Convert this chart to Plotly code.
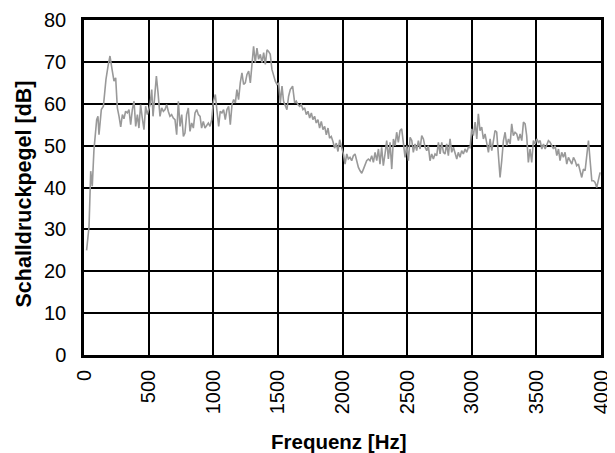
import plotly.graph_objects as go

# Frequency (Hz) and sound pressure level (dB), in four bands
freq_0_1k = [20, 39, 52, 64, 77, 98, 108, 116, 134, 150, 160, 170, 186, 201, 217, 232, 245, 258, 271, 284,
             297, 309, 322, 335, 348, 361, 374, 387, 400, 413, 425, 438, 451, 464, 477, 490, 511, 524, 534, 547,
             560, 573, 588, 601, 614, 627, 640, 652, 665, 678, 691, 704, 717, 730, 743, 756, 769, 781, 794, 807,
             820, 833, 846, 859, 872, 885, 898, 910, 923, 936, 949, 962, 975, 988]
level_0_1k = [25, 30.7, 43.9, 40.3, 49, 56.2, 57, 52.6, 58.6, 59.4, 62.6, 65.8, 69, 71.4, 68.2, 65.4, 66.2, 59, 57, 54.5,
              57.4, 56.4, 58.2, 57.8, 58.6, 55, 58.6, 60.6, 54.6, 57.4, 54.2, 59.8, 56.6, 53.8, 59.4, 57.4, 59.8, 63.4, 57, 61.4,
              66.6, 62.6, 57, 59, 58.2, 58.6, 59.8, 58.2, 57, 57.4, 56.6, 56.2, 52.6, 60.6, 54.6, 57.4, 52.2, 53, 57.4, 59,
              53.4, 55.4, 54.2, 57.8, 58.6, 57.4, 57, 54.2, 55.8, 54.2, 55, 55.4, 54.6, 56.2]

freq_1k_2k = [1001, 1016, 1029, 1042, 1054, 1067, 1080, 1093, 1106, 1119, 1132, 1145, 1158, 1171, 1183, 1196, 1209, 1222,
              1235, 1248, 1261, 1274, 1287, 1299, 1312, 1325, 1338, 1351, 1364, 1377, 1390, 1403, 1416, 1428, 1441, 1454,
              1467, 1480, 1493, 1506, 1519, 1532, 1544, 1557, 1570, 1583, 1596, 1614, 1630, 1642, 1655, 1668, 1681, 1694,
              1707, 1720, 1733, 1746, 1759, 1771, 1784, 1797, 1810, 1823, 1836, 1849, 1862, 1875, 1888, 1900, 1913, 1926,
              1939, 1952, 1965, 1978, 1991]
level_1k_2k = [60.5, 62.2, 58.2, 54.6, 58.2, 57.8, 58.6, 56.2, 58.6, 59.4, 55, 59.8, 61, 60.2, 63.4, 61, 65, 67.4,
               64.6, 65, 67, 67.8, 65, 68.6, 73.7, 69.8, 73.3, 70.6, 71.8, 69.8, 72.2, 69.4, 72.9, 72.5, 71.8, 68.2,
               66.6, 65.4, 64.6, 65, 60.2, 64.2, 60.6, 59.4, 58.6, 61.8, 63.4, 64.2, 60.2, 60.6, 59.8, 59.4, 59.8, 58.6,
               59, 57.4, 58.2, 56.6, 57.8, 56.2, 57, 55.4, 56.2, 54.2, 55.8, 53.8, 54.6, 52.6, 54.2, 51.8, 52.2, 51,
               49.4, 50.6, 48.6, 51.4, 49.8]

freq_2k_3k = [2007, 2020, 2033, 2045, 2058, 2071, 2084, 2097, 2110, 2123, 2136, 2149, 2162, 2174, 2187, 2200, 2213, 2226,
              2239, 2252, 2265, 2278, 2290, 2303, 2316, 2329, 2342, 2355, 2368, 2381, 2394, 2407, 2419, 2432, 2445, 2458,
              2471, 2484, 2497, 2510, 2523, 2536, 2548, 2561, 2574, 2587, 2600, 2613, 2626, 2639, 2652, 2664, 2677, 2690,
              2703, 2716, 2729, 2742, 2755, 2768, 2781, 2793, 2806, 2819, 2832, 2845, 2858, 2871, 2884, 2896, 2909, 2922,
              2935, 2948, 2961, 2974, 2987]
level_2k_3k = [48, 45.6, 48, 46.8, 47.2, 46.4, 47.6, 48, 46, 44.8, 44, 43.4, 44.4, 45.6, 46.4, 46.8, 46.4, 47.6,
               46, 48.4, 46.4, 49.2, 45.6, 49.6, 45.2, 48, 51.2, 46.8, 50.8, 44.4, 51.6, 50, 53.2, 50.8, 53.6, 54,
               50.8, 47.2, 50, 46.4, 52, 51.2, 48.4, 50.4, 48.8, 51.2, 49.2, 52.4, 51.6, 49.6, 48.8, 50, 46.4, 48,
               46.8, 48, 47.6, 50.8, 48, 50.8, 48.4, 48, 50.4, 47.6, 51.6, 48.4, 49.6, 48, 46.8, 48.4, 47.2, 48.8,
               48, 49.2, 48.4, 49.6, 49.5]

freq_3k_4k = [3000, 3013, 3026, 3039, 3051, 3064, 3077, 3090, 3103, 3116, 3129, 3142, 3155, 3168, 3180, 3193, 3206, 3219,
              3232, 3245, 3258, 3271, 3284, 3297, 3309, 3322, 3335, 3348, 3361, 3374, 3387, 3400, 3413, 3425, 3438, 3451,
              3464, 3477, 3490, 3503, 3516, 3529, 3542, 3555, 3568, 3580, 3593, 3606, 3619, 3632, 3645, 3658, 3671, 3683,
              3696, 3709, 3722, 3735, 3748, 3761, 3774, 3787, 3800, 3812, 3825, 3838, 3851, 3864, 3877, 3890, 3903, 3916,
              3929, 3942, 3954, 3967, 3980, 3993]
level_3k_4k = [54, 52.4, 55.6, 51.6, 57.6, 53.6, 54.4, 51.6, 52.8, 50.4, 48.4, 51.6, 48.8, 51.2, 53.6, 53.2, 46.8, 42.4,
               46.4, 51.2, 53.2, 50, 51.6, 50.4, 55.2, 52.4, 53.2, 52.8, 51.2, 52.8, 51.2, 55.6, 55.2, 52.4, 46, 49.2,
               46, 51.2, 50.4, 51.6, 50.8, 51.2, 49.2, 50.4, 49.2, 50, 51.2, 50.8, 50, 49.2, 50, 47.6, 49.2, 46.4,
               48.4, 47.2, 48.4, 45.6, 47.2, 46.4, 45.6, 47.2, 46.4, 45.2, 45.6, 44, 42.4, 44.4, 44, 47.6, 51.2, 46.4,
               41.6, 41.6, 41.2, 40, 42, 43.6]

x_ticks = [0, 500, 1000, 1500, 2000, 2500, 3000, 3500, 4000]
y_ticks = [0, 10, 20, 30, 40, 50, 60, 70, 80]

freq = freq_0_1k + freq_1k_2k + freq_2k_3k + freq_3k_4k
level = level_0_1k + level_1k_2k + level_2k_3k + level_3k_4k

font_family = "Liberation Sans, Arial, sans-serif"

fig = go.Figure(go.Scatter(x=freq, y=level, mode="lines",
                           line=dict(color="#999999", width=1.6), showlegend=False))

fig.update_layout(
    width=615, height=453,
    margin=dict(l=76, r=22, t=12, b=106, autoexpand=False),
    paper_bgcolor="white", plot_bgcolor="white",
    font=dict(family=font_family, size=20, color="black"),
)
fig.update_xaxes(range=[0, 4000], tickvals=x_ticks, ticktext=[str(v) for v in x_ticks],
                 tickangle=-90, showgrid=True, gridcolor="black", gridwidth=1.5,
                 showline=True, linecolor="black", linewidth=2.5, mirror=True,
                 zeroline=False, ticks="", ticklabelstandoff=4)
fig.update_yaxes(range=[0, 80], tickvals=y_ticks, ticktext=[str(v) for v in y_ticks],
                 showgrid=True, gridcolor="black", gridwidth=1.5,
                 showline=True, linecolor="black", linewidth=2.5, mirror=True,
                 zeroline=False, ticks="", ticklabelstandoff=11)

fig.update_layout(annotations=[
    dict(text="<b>Frequenz [Hz]</b>", x=254.5 / 517, xref="paper", xanchor="center",
         y=-87 / 335, yref="paper", yanchor="middle", showarrow=False,
         font=dict(size=20.5, family=font_family)),
    dict(text="<b>Schalldruckpegel [dB]</b>", x=-61 / 517, xref="paper", xanchor="center",
         y=160.5 / 335, yref="paper", yanchor="middle", textangle=-90, showarrow=False,
         font=dict(size=21.5, family=font_family)),
])

fig.write_html("out.html")
